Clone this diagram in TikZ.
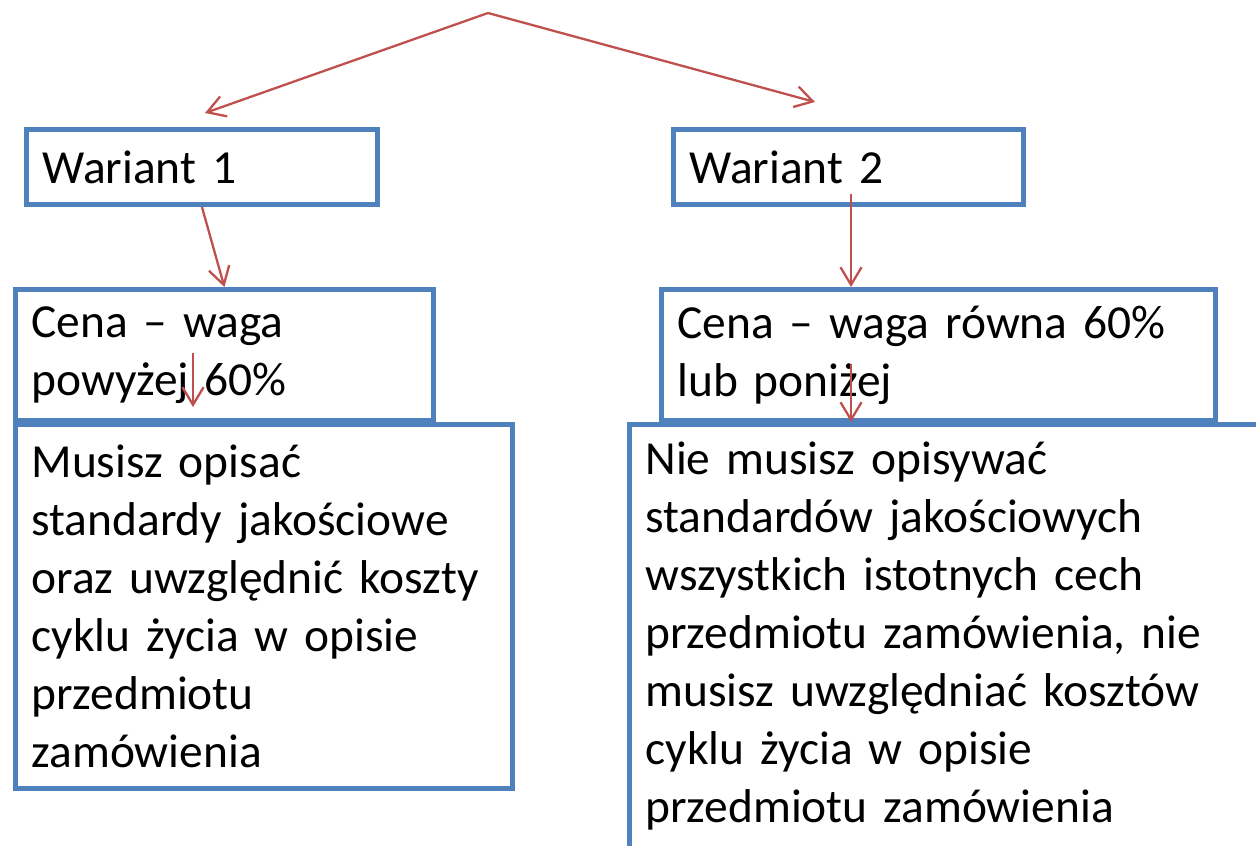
\documentclass[tikz,border=0pt]{standalone}
\usepackage{fontspec}
\setmainfont{Carlito}
\usetikzlibrary{arrows.meta}
\definecolor{boxblue}{HTML}{4F81BD}
\definecolor{arrred}{HTML}{C0504D}
\DeclareRobustCommand{\boxfont}{\fontsize{27pt}{33pt}\selectfont\spaceskip=4.6pt\relax}

\begin{document}
\begin{tikzpicture}[x=0.02cm, y=-0.02cm,
  box/.style={draw=boxblue, line width=2.8pt, fill=white, rectangle, anchor=north west,
    inner xsep=0.32cm, inner ysep=0pt, align=left, font=\boxfont},
  arr/.style={draw=arrred, line width=1.3pt, -{Straight Barb[length=10pt,width=12pt]}}]
\newcommand{\Wtop}{127}; % top of the variant boxes
\newcommand{\Ctop}{287}; % top of the price boxes
\newcommand{\Mtop}{422}; % top of the result boxes

\useasboundingbox (0,0) rectangle (1256,845);
\clip (0,0) rectangle (1256,845);
\fill[white] (0,0) rectangle (1256,845);

% variants
\node[box, text width=6.38cm, minimum height=1.5cm] (W1) at (24,\Wtop) {Wariant 1};
\node[box, text width=6.36cm, minimum height=1.5cm] (W2) at (671,\Wtop) {Wariant 2};
%

% price weight
\node[box, text width=7.72cm, minimum height=2.62cm] (C1) at (13,\Ctop) {Cena -- waga\\powyżej 60\%};
\node[box, text width=10.44cm, minimum height=2.62cm] (C2) at (659,\Ctop) {Cena -- waga równa 60\%\\lub poniżej};

% results
\node[box, text width=9.3cm, minimum height=7.28cm] (M1) at (13,\Mtop)
  {Musisz opisać\\standardy jakościowe\\oraz uwzględnić koszty\\cyklu życia w opisie\\przedmiotu\\zamówienia};
\node[box, text width=12.82cm, minimum height=8.48cm] (M2) at (627,\Mtop)
  {Nie musisz opisywać\\standardów jakościowych\\wszystkich istotnych cech\\przedmiotu zamówienia, nie\\musisz uwzględniać kosztów\\cyklu życia w opisie\\przedmiotu zamówienia};

\coordinate (top) at (488,13); % common start of the split
\coordinate (w1in) at (205,113);
\coordinate (w2in) at (815,102);
\coordinate (w2out) at (851,194);
\coordinate (c1out) at (193,353);
\coordinate (c1in) at (193,407);
\coordinate (c2out) at (851,364);

% arrows
\draw[arr] (top) -- (w1in);
\draw[arr] (top) -- (w2in);
\draw[arr] (W1.south) -- (C1.north);
\draw[arr] (w2out) -- (w2out |- C2.north);
\draw[arr] (c1out) -- (c1in);
\draw[arr] (c2out) -- (c2out |- M2.north);
\end{tikzpicture}
\end{document}
